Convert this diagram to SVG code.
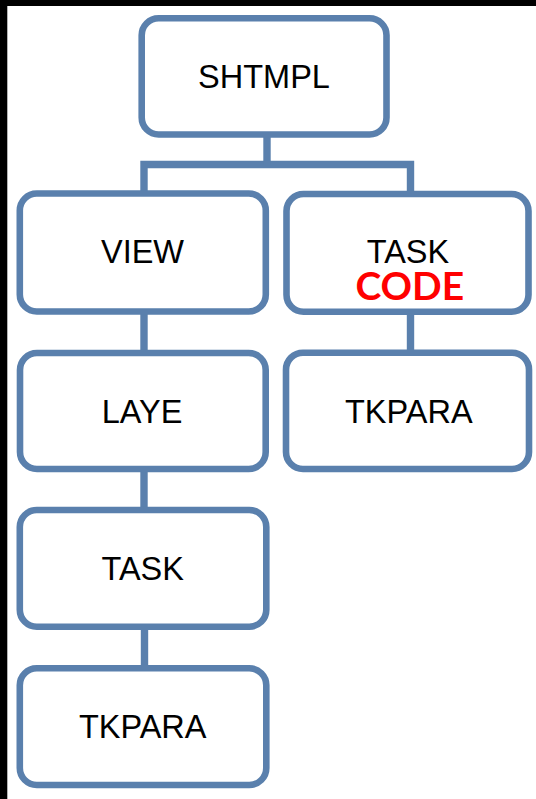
<svg xmlns="http://www.w3.org/2000/svg" width="536" height="799" viewBox="0 0 536 799">
<style>
.box{fill:#fff;stroke:#5a80ad;stroke-width:6.6}
.lbl{font-family:"Liberation Sans",Arial,sans-serif;font-size:32.5px;fill:#000;text-anchor:middle}
.code{font-family:Lato,"Liberation Sans",sans-serif;font-weight:bold;font-size:39px;fill:#ff0000;text-anchor:middle}
.conn{fill:none;stroke:#5a80ad;stroke-width:7.4;stroke-linejoin:miter}
</style>
<rect x="0" y="0" width="536" height="799" fill="#fff"/>
<rect x="0" y="0" width="536" height="6" fill="#000"/>
<rect x="0" y="0" width="7.3" height="799" fill="#000"/>
<g id="connectors">
<path class="conn" d="M144,193.5 V164.5 H410.5 V194"/>
<path class="conn" d="M267,134.5 V164.5"/>
<path class="conn" d="M144,311.5 V353"/>
<path class="conn" d="M144,469 V510"/>
<path class="conn" d="M144.5,626.7 V668.3"/>
<path class="conn" d="M410.5,311.7 V352.7"/>
</g>
<g id="shtmpl">
<rect class="box" x="141.7" y="18.3" width="244.8" height="116.2" rx="17"/>
<text class="lbl" x="264" y="88.3">SHTMPL</text>
</g>
<g id="view">
<rect class="box" x="19.8" y="193.5" width="246" height="118" rx="17"/>
<text class="lbl" x="142.5" y="263.3">VIEW</text>
</g>
<g id="task-code">
<rect class="box" x="286.5" y="194" width="242" height="117.7" rx="17"/>
<text class="lbl" x="408" y="263.3">TASK</text>
<text class="code" x="409.8" y="300">CODE</text>
</g>
<g id="laye">
<rect class="box" x="20" y="353" width="245.7" height="116" rx="17"/>
<text class="lbl" x="142" y="422.7">LAYE</text>
</g>
<g id="tkpara-right">
<rect class="box" x="286" y="352.7" width="243" height="116.3" rx="17"/>
<text class="lbl" x="408.8" y="422.7">TKPARA</text>
</g>
<g id="task">
<rect class="box" x="19.8" y="510" width="246.5" height="116.7" rx="17"/>
<text class="lbl" x="142.7" y="580">TASK</text>
</g>
<g id="tkpara-left">
<rect class="box" x="19.8" y="668.3" width="246.5" height="116.7" rx="17"/>
<text class="lbl" x="142.7" y="738.3">TKPARA</text>
</g>
</svg>
